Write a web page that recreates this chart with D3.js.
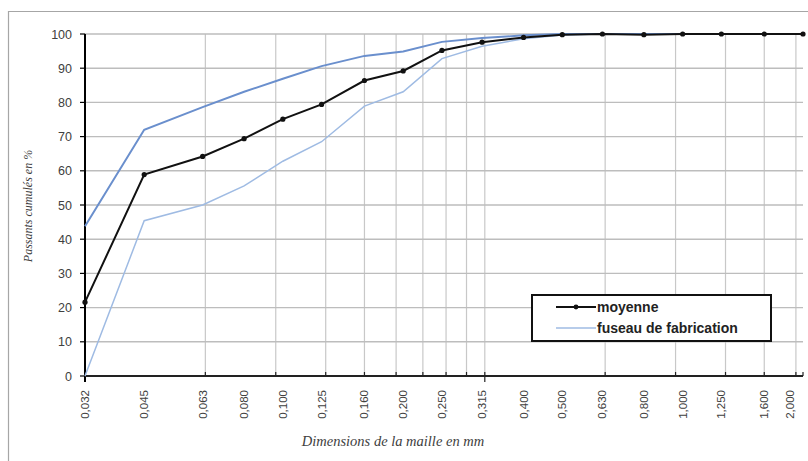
<!doctype html>
<html lang="fr">
<head>
<meta charset="UTF-8">
<title>Courbe granulométrique</title>
<style>
  body { margin: 0; background: #fff; }
  svg { display: block; }
  .ylab, .xlab { font-family: "Liberation Sans", Arial, sans-serif; fill: #404040; }
  .title { font-family: "Liberation Serif", "DejaVu Serif", serif; font-style: italic; fill: #404040; }
  .leg { font-family: "Liberation Sans", Arial, sans-serif; font-weight: bold; font-size: 14px; fill: #222; }
</style>
</head>
<body>
<div id="chart"></div>
<script src="https://d3js.org/d3.v7.min.js"></script>
<script>
  // tamis (mm) et libellés
  const sizes = [0.032, 0.045, 0.063, 0.080, 0.100, 0.125, 0.160, 0.200, 0.250, 0.315,
                 0.400, 0.500, 0.630, 0.800, 1.000, 1.250, 1.600, 2.000]
  const sizeLabels = ['0,032', '0,045', '0,063', '0,080', '0,100', '0,125', '0,160', '0,200', '0,250', '0,315',
                      '0,400', '0,500', '0,630', '0,800', '1,000', '1,250', '1,600', '2,000']
  // passants cumulés en %
  const moyenne = [21.6, 58.9, 64.2, 69.4, 75.1, 79.4, 86.4, 89.2, 95.2, 97.6,
                   99.0, 99.8, 100, 99.8, 100, 100, 100, 100]
  const fuseauHaut = [43.8, 72.0, 78.6, 83.1, 86.9, 90.6, 93.6, 94.9, 97.7, 98.8,
                      99.6, 100, 100, 100, 100, 100, 100, 100]
  const fuseauBas = [0, 45.4, 50.0, 55.6, 62.8, 68.5, 78.9, 83.1, 92.8, 96.4,
                     98.6, 99.7, 100, 100, 100, 100, 100, 100]
  const yTicks = [0, 10, 20, 30, 40, 50, 60, 70, 80, 90, 100]

  const width = 808
  const height = 461

  const svg = d3.select('#chart')
    .append('svg')
    .attr('width', width)
    .attr('height', height)

  // cadre du graphique
  svg.append('path')
    .attr('d', `M8.5,${height + 2} V11.5 H${width + 2}`)
    .attr('fill', 'none')
    .attr('stroke', '#a6a6a6')
    .attr('stroke-width', 1.2)

  const x = d3.scaleLog().domain([0.032, 2.0]).range([85, 803])
  const y = d3.scaleLinear().domain([0, 100]).range([376, 34])

  // quadrillage vertical (axe log, base 0,032)
  const minor = []
  for (let k = 2; k <= 9; k++) minor.push(0.032 * k)
  for (let k = 1; k <= 6; k++) minor.push(0.32 * k)

  svg.append('g')
    .selectAll('line')
    .data(minor)
    .join('line')
    .attr('x1', d => x(d)).attr('x2', d => x(d))
    .attr('y1', y(0)).attr('y2', y(100))
    .attr('stroke', '#c8c8c8')
    .attr('stroke-width', 1.2)

  svg.append('g')
    .selectAll('line')
    .data(yTicks.slice(1))
    .join('line')
    .attr('x1', x(0.032)).attr('x2', x(2.0))
    .attr('y1', d => y(d)).attr('y2', d => y(d))
    .attr('stroke', '#bdbdbd')
    .attr('stroke-width', 1.4)

  // axe Y
  svg.append('line')
    .attr('x1', x(0.032)).attr('x2', x(0.032))
    .attr('y1', y(100)).attr('y2', y(0) + 6)
    .attr('stroke', '#000').attr('stroke-width', 2)

  svg.append('g')
    .selectAll('line')
    .data(yTicks)
    .join('line')
    .attr('x1', x(0.032) - 5).attr('x2', x(0.032))
    .attr('y1', d => y(d)).attr('y2', d => y(d))
    .attr('stroke', '#000').attr('stroke-width', 1.2)

  svg.append('g')
    .selectAll('text')
    .data(yTicks)
    .join('text')
    .attr('class', 'ylab')
    .attr('x', 72)
    .attr('y', d => y(d))
    .attr('dy', '0.36em')
    .attr('text-anchor', 'end')
    .style('font-size', '12.5px')
    .text(d => d)

  // axe X
  svg.append('line')
    .attr('x1', x(0.032)).attr('x2', x(2.0))
    .attr('y1', y(0)).attr('y2', y(0))
    .attr('stroke', '#222').attr('stroke-width', 2)

  svg.append('g')
    .selectAll('line')
    .data(minor.filter(d => Math.abs(d - 0.32) > 1e-6).concat([2.0]))
    .join('line')
    .attr('x1', d => x(d)).attr('x2', d => x(d))
    .attr('y1', y(0) - 4).attr('y2', y(0))
    .attr('stroke', '#222').attr('stroke-width', 1.2)

  svg.append('line')
    .attr('x1', x(0.32)).attr('x2', x(0.32))
    .attr('y1', y(0) - 4).attr('y2', y(0) + 6)
    .attr('stroke', '#222').attr('stroke-width', 1.2)

  svg.append('g')
    .selectAll('text')
    .data(sizes)
    .join('text')
    .attr('class', 'xlab')
    .attr('transform', d => `translate(${Math.min(x(d), 790) + 4},${y(0) + 14}) rotate(-90)`)
    .attr('text-anchor', 'end')
    .style('font-size', '11.5px')
    .text((d, i) => sizeLabels[i])

  // titres d'axes
  svg.append('text')
    .attr('class', 'title')
    .attr('x', 393)
    .attr('y', 446)
    .attr('text-anchor', 'middle')
    .style('font-size', '14.5px')
    .text('Dimensions de la maille en mm')

  svg.append('text')
    .attr('class', 'title')
    .attr('transform', 'translate(32,206) rotate(-90)')
    .attr('text-anchor', 'middle')
    .style('font-size', '12px')
    .text('Passants cumulés en %')

  // courbes
  const line = d3.line()
    .x((d, i) => x(sizes[i]))
    .y(d => y(d))

  svg.append('path')
    .datum(fuseauBas)
    .attr('d', line)
    .attr('fill', 'none')
    .attr('stroke', '#9fbbe3')
    .attr('stroke-width', 1.5)

  svg.append('path')
    .datum(fuseauHaut)
    .attr('d', line)
    .attr('fill', 'none')
    .attr('stroke', '#6a8fcd')
    .attr('stroke-width', 2)

  svg.append('path')
    .datum(moyenne)
    .attr('d', line)
    .attr('fill', 'none')
    .attr('stroke', '#111')
    .attr('stroke-width', 2)

  svg.append('g')
    .selectAll('circle')
    .data(moyenne)
    .join('circle')
    .attr('cx', (d, i) => x(sizes[i]))
    .attr('cy', d => y(d))
    .attr('r', 2.6)
    .attr('fill', '#111')

  // légende
  const leg = svg.append('g').attr('transform', 'translate(532,295)')
  leg.append('rect')
    .attr('width', 239).attr('height', 46)
    .attr('fill', '#fff')
    .attr('stroke', '#111').attr('stroke-width', 2)
  leg.append('line')
    .attr('x1', 24).attr('x2', 64).attr('y1', 12).attr('y2', 12)
    .attr('stroke', '#111').attr('stroke-width', 2)
  leg.append('circle')
    .attr('cx', 44).attr('cy', 12).attr('r', 2.4).attr('fill', '#111')
  leg.append('text').attr('class', 'leg')
    .attr('x', 65).attr('y', 17).text('moyenne')
  leg.append('line')
    .attr('x1', 24).attr('x2', 64).attr('y1', 33).attr('y2', 33)
    .attr('stroke', '#9fbbe3').attr('stroke-width', 1.5)
  leg.append('text').attr('class', 'leg')
    .attr('x', 65).attr('y', 38).text('fuseau de fabrication')
</script>
</body>
</html>
